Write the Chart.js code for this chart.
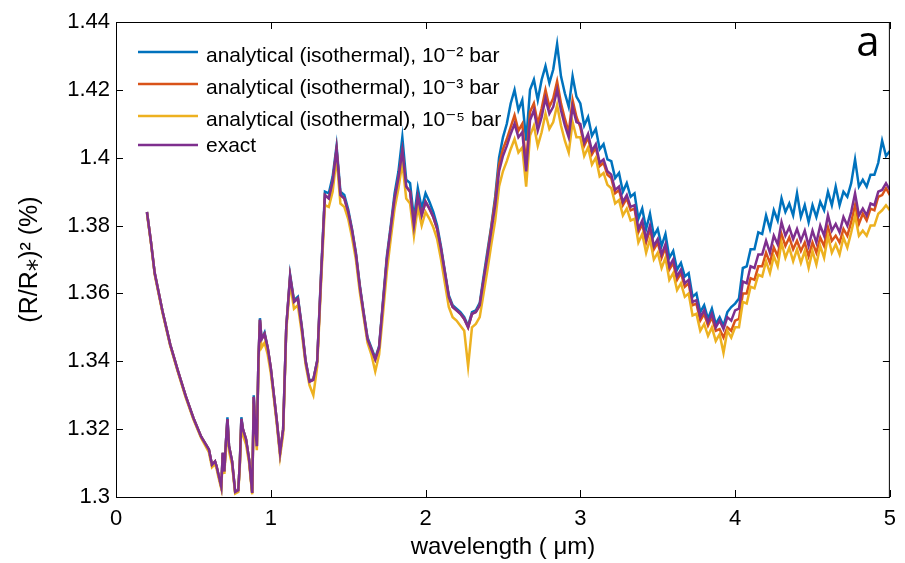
<!DOCTYPE html>
<html>
<head>
<meta charset="utf-8">
<script src="https://cdn.jsdelivr.net/npm/chart.js@4.4.1/dist/chart.umd.min.js"></script>
<style>
  body { margin: 0; background: #fff; }
</style>
</head>
<body>
<canvas id="spectrumChart" width="905" height="563"></canvas>
<script>
// Wavelength grid (micron)
const wavelength = [
    0.2, 0.225, 0.25, 0.3, 0.35, 0.4, 0.45, 0.5, 0.55,
    0.6, 0.62, 0.64, 0.65, 0.66, 0.68, 0.69, 0.7, 0.71, 0.72, 0.73, 0.75, 0.77, 0.79, 0.8, 0.81, 0.82,
    0.84, 0.86, 0.88, 0.89, 0.9, 0.91, 0.92, 0.93, 0.94, 0.96, 0.98, 1.0, 1.02, 1.04, 1.06, 1.08,
    1.1, 1.125, 1.15, 1.175, 1.2, 1.225, 1.25, 1.275,
    1.3, 1.325, 1.35, 1.375, 1.4, 1.425, 1.45, 1.475,
    1.5, 1.525, 1.55, 1.575, 1.6, 1.625, 1.65, 1.675,
    1.7, 1.725, 1.75, 1.775, 1.8, 1.825, 1.85, 1.875,
    1.9, 1.925, 1.95, 1.975, 2.0, 2.025, 2.05, 2.075,
    2.1, 2.125, 2.15, 2.175, 2.2, 2.225, 2.25, 2.275,
    2.3, 2.325, 2.35, 2.375, 2.4, 2.425, 2.45, 2.475,
    2.5, 2.525, 2.55, 2.575, 2.6, 2.625, 2.65, 2.675,
    2.7, 2.725, 2.75, 2.775, 2.8, 2.825, 2.85, 2.875,
    2.9, 2.925, 2.95, 2.975, 3.0, 3.025, 3.05, 3.075,
    3.1, 3.125, 3.15, 3.175, 3.2, 3.225, 3.25, 3.275,
    3.3, 3.325, 3.35, 3.375, 3.4, 3.425, 3.45, 3.475,
    3.5, 3.525, 3.55, 3.575, 3.6, 3.625, 3.65, 3.675,
    3.7, 3.725, 3.75, 3.775, 3.8, 3.825, 3.85, 3.875,
    3.9, 3.925, 3.95, 3.975, 4.0, 4.025, 4.05, 4.075,
    4.1, 4.125, 4.15, 4.175, 4.2, 4.225, 4.25, 4.275,
    4.3, 4.325, 4.35, 4.375, 4.4, 4.425, 4.45, 4.475,
    4.5, 4.525, 4.55, 4.575, 4.6, 4.625, 4.65, 4.675,
    4.7, 4.725, 4.75, 4.775, 4.8, 4.825, 4.85, 4.875,
    4.9, 4.925, 4.95, 4.975, 5.0
];

// analytical (isothermal), 1e-2 bar
const analytical2 = [
    1.3840, 1.3755, 1.3660, 1.3548, 1.3450, 1.3372, 1.3298, 1.3233, 1.3178,
    1.3140, 1.3095, 1.3105, 1.3090, 1.3070, 1.3030, 1.3130, 1.3075, 1.3160, 1.3235, 1.3150, 1.3105, 1.3015, 1.3020, 1.3100, 1.3235, 1.3200,
    1.3170, 1.3110, 1.3012, 1.3300, 1.3200, 1.3150, 1.3400, 1.3527, 1.3465, 1.3485, 1.3440, 1.3380, 1.3300, 1.3220, 1.3130, 1.3200,
    1.3500, 1.3655, 1.3580, 1.3590, 1.3505, 1.3402, 1.3342, 1.3347,
    1.3402, 1.3660, 1.3900, 1.3895, 1.3945, 1.4035, 1.3900, 1.3890,
    1.3848, 1.3790, 1.3720, 1.3625, 1.3545, 1.3470, 1.3440, 1.3410,
    1.3445, 1.3578, 1.3710, 1.3800, 1.3895, 1.3960, 1.4060, 1.3935,
    1.3925, 1.3820, 1.3910, 1.3850, 1.3895, 1.3870, 1.3840, 1.3800,
    1.3738, 1.3665, 1.3595, 1.3565, 1.3555, 1.3545, 1.3530, 1.3505,
    1.3545, 1.3550, 1.3572, 1.3650, 1.3725, 1.3800, 1.3885, 1.4000,
    1.4060, 1.4100, 1.4160, 1.4200, 1.4140, 1.4170, 1.4050, 1.4200,
    1.4230, 1.4170, 1.4230, 1.4270, 1.4220, 1.4260, 1.4335, 1.4240,
    1.4190, 1.4150, 1.4240, 1.4180, 1.4160, 1.4095, 1.4120, 1.4065,
    1.4085, 1.4025, 1.4040, 1.3995, 1.3990, 1.3940, 1.3955, 1.3900,
    1.3925, 1.3885, 1.3895, 1.3820, 1.3850, 1.3790, 1.3835, 1.3770,
    1.3790, 1.3740, 1.3775, 1.3705, 1.3725, 1.3670, 1.3690, 1.3650,
    1.3660, 1.3590, 1.3600, 1.3545, 1.3565, 1.3525, 1.3555, 1.3510,
    1.3530, 1.3505, 1.3545, 1.3560, 1.3570, 1.3585, 1.3675, 1.3680,
    1.3730, 1.3730, 1.3780, 1.3775, 1.3830, 1.3790, 1.3845, 1.3815,
    1.3880, 1.3840, 1.3865, 1.3830, 1.3895, 1.3825, 1.3860, 1.3810,
    1.3860, 1.3825, 1.3870, 1.3845, 1.3900, 1.3860, 1.3915, 1.3860,
    1.3900, 1.3885, 1.3925, 1.3995, 1.3915, 1.3935, 1.3915, 1.3950,
    1.3950, 1.3985, 1.4050, 1.4005, 1.4020
];

// analytical (isothermal), 1e-3 bar
const analytical3 = [
    1.3840, 1.3755, 1.3660, 1.3548, 1.3450, 1.3372, 1.3298, 1.3233, 1.3178,
    1.3140, 1.3095, 1.3105, 1.3090, 1.3070, 1.3030, 1.3130, 1.3075, 1.3160, 1.3230, 1.3150, 1.3105, 1.3015, 1.3020, 1.3100, 1.3230, 1.3200,
    1.3170, 1.3110, 1.3012, 1.3295, 1.3200, 1.3150, 1.3400, 1.3522, 1.3465, 1.3480, 1.3440, 1.3380, 1.3300, 1.3220, 1.3130, 1.3200,
    1.3500, 1.3650, 1.3575, 1.3585, 1.3500, 1.3400, 1.3340, 1.3345,
    1.3400, 1.3650, 1.3890, 1.3880, 1.3930, 1.4025, 1.3890, 1.3880,
    1.3840, 1.3785, 1.3715, 1.3620, 1.3540, 1.3465, 1.3435, 1.3405,
    1.3440, 1.3570, 1.3700, 1.3790, 1.3880, 1.3940, 1.4020, 1.3915,
    1.3900, 1.3800, 1.3885, 1.3830, 1.3870, 1.3850, 1.3825, 1.3790,
    1.3730, 1.3660, 1.3590, 1.3560, 1.3550, 1.3540, 1.3525, 1.3500,
    1.3540, 1.3545, 1.3565, 1.3640, 1.3715, 1.3795, 1.3875, 1.3980,
    1.4025, 1.4055, 1.4090, 1.4125, 1.4080, 1.4100, 1.3980, 1.4135,
    1.4160, 1.4100, 1.4145, 1.4200, 1.4150, 1.4175, 1.4225, 1.4160,
    1.4115, 1.4075, 1.4170, 1.4120, 1.4090, 1.4035, 1.4060, 1.4010,
    1.4030, 1.3975, 1.3985, 1.3950, 1.3940, 1.3895, 1.3905, 1.3860,
    1.3880, 1.3845, 1.3850, 1.3780, 1.3805, 1.3750, 1.3790, 1.3730,
    1.3750, 1.3705, 1.3735, 1.3670, 1.3690, 1.3640, 1.3660, 1.3620,
    1.3630, 1.3565, 1.3570, 1.3520, 1.3540, 1.3505, 1.3530, 1.3490,
    1.3495, 1.3470, 1.3500, 1.3490, 1.3520, 1.3525, 1.3600, 1.3600,
    1.3645, 1.3640, 1.3680, 1.3680, 1.3720, 1.3690, 1.3735, 1.3710,
    1.3775, 1.3740, 1.3765, 1.3730, 1.3755, 1.3725, 1.3750, 1.3710,
    1.3750, 1.3720, 1.3765, 1.3740, 1.3795, 1.3755, 1.3770, 1.3750,
    1.3790, 1.3770, 1.3810, 1.3860, 1.3805, 1.3835, 1.3815, 1.3850,
    1.3845, 1.3885, 1.3890, 1.3910, 1.3890
];

// analytical (isothermal), 1e-5 bar
const analytical5 = [
    1.3836, 1.3751, 1.3656, 1.3544, 1.3446, 1.3368, 1.3294, 1.3229, 1.3174,
    1.3132, 1.3088, 1.3097, 1.3083, 1.3062, 1.3025, 1.3112, 1.3068, 1.3145, 1.3210, 1.3135, 1.3095, 1.3010, 1.3015, 1.3088, 1.3212, 1.3182,
    1.3155, 1.3100, 1.3008, 1.3275, 1.3185, 1.3138, 1.3380, 1.3500, 1.3440, 1.3455, 1.3420, 1.3365, 1.3290, 1.3210, 1.3120, 1.3185,
    1.3490, 1.3630, 1.3555, 1.3565, 1.3485, 1.3390, 1.3330, 1.3300,
    1.3385, 1.3630, 1.3860, 1.3855, 1.3900, 1.4000, 1.3865, 1.3855,
    1.3820, 1.3765, 1.3700, 1.3605, 1.3530, 1.3455, 1.3420, 1.3370,
    1.3420, 1.3540, 1.3665, 1.3760, 1.3850, 1.3910, 1.3985, 1.3880,
    1.3865, 1.3770, 1.3855, 1.3800, 1.3840, 1.3820, 1.3795, 1.3760,
    1.3700, 1.3630, 1.3560, 1.3530, 1.3520, 1.3505, 1.3490, 1.3385,
    1.3500, 1.3510, 1.3530, 1.3600, 1.3670, 1.3745, 1.3815, 1.3915,
    1.3960, 1.3990, 1.4025, 1.4055, 1.4015, 1.4030, 1.3915, 1.4065,
    1.4095, 1.4035, 1.4075, 1.4130, 1.4085, 1.4105, 1.4155, 1.4095,
    1.4050, 1.4015, 1.4105, 1.4060, 1.4060, 1.4005, 1.4030, 1.3980,
    1.4000, 1.3945, 1.3955, 1.3920, 1.3910, 1.3865, 1.3875, 1.3830,
    1.3850, 1.3815, 1.3820, 1.3750, 1.3775, 1.3720, 1.3760, 1.3700,
    1.3720, 1.3675, 1.3705, 1.3640, 1.3660, 1.3610, 1.3630, 1.3590,
    1.3600, 1.3535, 1.3540, 1.3490, 1.3510, 1.3475, 1.3500, 1.3460,
    1.3480, 1.3425, 1.3490, 1.3470, 1.3500, 1.3500, 1.3575, 1.3570,
    1.3620, 1.3615, 1.3655, 1.3650, 1.3695, 1.3660, 1.3710, 1.3680,
    1.3750, 1.3705, 1.3735, 1.3695, 1.3730, 1.3690, 1.3725, 1.3675,
    1.3725, 1.3685, 1.3740, 1.3705, 1.3770, 1.3720, 1.3745, 1.3715,
    1.3765, 1.3735, 1.3780, 1.3830, 1.3770, 1.3785, 1.3770, 1.3800,
    1.3800, 1.3835, 1.3845, 1.3860, 1.3845
];

// exact calculation
const exact = [
    1.3840, 1.3755, 1.3660, 1.3548, 1.3450, 1.3372, 1.3298, 1.3233, 1.3178,
    1.3140, 1.3095, 1.3105, 1.3090, 1.3070, 1.3030, 1.3130, 1.3075, 1.3160, 1.3230, 1.3150, 1.3105, 1.3015, 1.3020, 1.3100, 1.3230, 1.3200,
    1.3170, 1.3110, 1.3012, 1.3295, 1.3200, 1.3150, 1.3400, 1.3522, 1.3465, 1.3480, 1.3440, 1.3380, 1.3300, 1.3220, 1.3130, 1.3200,
    1.3500, 1.3650, 1.3575, 1.3585, 1.3500, 1.3400, 1.3340, 1.3345,
    1.3400, 1.3650, 1.3890, 1.3880, 1.3930, 1.4025, 1.3890, 1.3880,
    1.3840, 1.3785, 1.3715, 1.3620, 1.3540, 1.3465, 1.3435, 1.3405,
    1.3440, 1.3570, 1.3700, 1.3790, 1.3880, 1.3940, 1.4020, 1.3915,
    1.3900, 1.3800, 1.3885, 1.3830, 1.3870, 1.3850, 1.3825, 1.3790,
    1.3730, 1.3660, 1.3590, 1.3560, 1.3550, 1.3540, 1.3525, 1.3500,
    1.3540, 1.3545, 1.3565, 1.3640, 1.3710, 1.3785, 1.3860, 1.3960,
    1.4005, 1.4035, 1.4070, 1.4100, 1.4060, 1.4075, 1.3960, 1.4110,
    1.4140, 1.4080, 1.4120, 1.4175, 1.4130, 1.4150, 1.4200, 1.4140,
    1.4095, 1.4060, 1.4150, 1.4105, 1.4100, 1.4045, 1.4070, 1.4020,
    1.4040, 1.3985, 1.3995, 1.3960, 1.3950, 1.3905, 1.3915, 1.3870,
    1.3890, 1.3855, 1.3860, 1.3790, 1.3815, 1.3760, 1.3800, 1.3740,
    1.3760, 1.3715, 1.3745, 1.3680, 1.3700, 1.3650, 1.3670, 1.3630,
    1.3640, 1.3575, 1.3580, 1.3530, 1.3550, 1.3515, 1.3540, 1.3500,
    1.3520, 1.3495, 1.3530, 1.3520, 1.3550, 1.3555, 1.3635, 1.3630,
    1.3680, 1.3675, 1.3715, 1.3715, 1.3755, 1.3720, 1.3770, 1.3745,
    1.3810, 1.3770, 1.3795, 1.3760, 1.3790, 1.3755, 1.3785, 1.3740,
    1.3785, 1.3750, 1.3800, 1.3770, 1.3830, 1.3785, 1.3805, 1.3780,
    1.3825, 1.3800, 1.3840, 1.3895, 1.3830, 1.3850, 1.3830, 1.3865,
    1.3860, 1.3900, 1.3905, 1.3925, 1.3905
];

const seriesLabels = [
    'analytical (isothermal), 10\u207B\u00B2 bar',
    'analytical (isothermal), 10\u207B\u00B3 bar',
    'analytical (isothermal), 10\u207B\u2075 bar',
    'exact'
];
const seriesColors = ['#0072BD', '#D95319', '#EDB120', '#7E2F8E'];
const xTicks = [0, 1, 2, 3, 4, 5];
const yTicks = [1.3, 1.32, 1.34, 1.36, 1.38, 1.4, 1.42, 1.44];

const FONT = "'Liberation Sans', Arial, 'DejaVu Sans', sans-serif";

function toPoints(values) {
    return wavelength.map((w, i) => ({ x: w, y: values[i] }));
}

// Box around the axes, inward ticks, legend and panel letter
const matlabFrame = {
    id: 'matlabFrame',
    afterDraw(chart) {
        const { ctx, chartArea: a, scales } = chart;
        ctx.save();
        ctx.strokeStyle = '#000';
        ctx.lineWidth = 1;
        ctx.strokeRect(a.left + 0.5, a.top + 0.5, a.right - a.left - 1, a.bottom - a.top);

        const tickLen = 7;
        ctx.beginPath();
        xTicks.forEach(v => {
            const px = Math.round(scales.x.getPixelForValue(v)) + 0.5;
            ctx.moveTo(px, a.bottom); ctx.lineTo(px, a.bottom - tickLen);
            ctx.moveTo(px, a.top); ctx.lineTo(px, a.top + tickLen);
        });
        yTicks.forEach(v => {
            const py = Math.round(scales.y.getPixelForValue(v)) + 0.5;
            ctx.moveTo(a.left, py); ctx.lineTo(a.left + tickLen, py);
            ctx.moveTo(a.right, py); ctx.lineTo(a.right - tickLen, py);
        });
        ctx.stroke();

        // legend
        const lineY = [52, 84, 116, 145];
        const textY = [62, 94, 126, 152];
        ctx.font = '21px ' + FONT;
        ctx.fillStyle = '#000';
        ctx.textBaseline = 'alphabetic';
        ctx.textAlign = 'left';
        chart.data.datasets.forEach((ds, i) => {
            ctx.strokeStyle = ds.borderColor;
            ctx.lineWidth = 2.5;
            ctx.beginPath();
            ctx.moveTo(138, lineY[i]);
            ctx.lineTo(198, lineY[i]);
            ctx.stroke();
            ctx.fillText(ds.label, 206, textY[i]);
        });

        // panel letter
        ctx.font = "42px 'Open Sans', sans-serif";
        ctx.textAlign = 'center';
        ctx.fillText('a', 868, 56);
        ctx.restore();
    }
};

const ctx = document.getElementById('spectrumChart');
new Chart(ctx, {
    type: 'line',
    data: {
        datasets: seriesLabels.map((label, i) => ({
            label: label,
            data: toPoints([analytical2, analytical3, analytical5, exact][i]),
            borderColor: seriesColors[i],
            backgroundColor: seriesColors[i],
            borderWidth: 2.5,
            pointRadius: 0,
            tension: 0,
            order: 4 - i
        }))
    },
    options: {
        responsive: false,
        animation: false,
        layout: { padding: { left: 0, right: 15, top: 22, bottom: 0 } },
        plugins: {
            legend: { display: false },
            tooltip: { enabled: false }
        },
        scales: {
            x: {
                type: 'linear',
                min: 0,
                max: 5,
                afterBuildTicks: (scale) => { scale.ticks = xTicks.map(v => ({ value: v })); },
                afterFit: (scale) => { scale.height = 66; },
                grid: { display: false, drawTicks: false },
                border: { display: false },
                ticks: { color: '#000', padding: 9, font: { family: FONT, size: 22 } },
                title: {
                    display: true,
                    text: 'wavelength ( \u03BCm)',
                    color: '#000',
                    padding: { top: 0, bottom: 1 },
                    font: { family: FONT, size: 24 }
                }
            },
            y: {
                type: 'linear',
                min: 1.3,
                max: 1.44,
                afterBuildTicks: (scale) => { scale.ticks = yTicks.map(v => ({ value: v })); },
                afterFit: (scale) => { scale.width = 116; },
                grid: { display: false, drawTicks: false },
                border: { display: false },
                ticks: {
                    color: '#000',
                    padding: 6,
                    font: { family: FONT, size: 22 },
                    callback: (v) => String(Number(v.toFixed(2)))
                },
                title: {
                    display: true,
                    text: '(R/R\u204E)\u00B2 (%)',
                    color: '#000',
                    padding: { top: 15, bottom: 0 },
                    font: { family: FONT, size: 25 }
                }
            }
        }
    },
    plugins: [matlabFrame]
});
</script>
</body>
</html>
